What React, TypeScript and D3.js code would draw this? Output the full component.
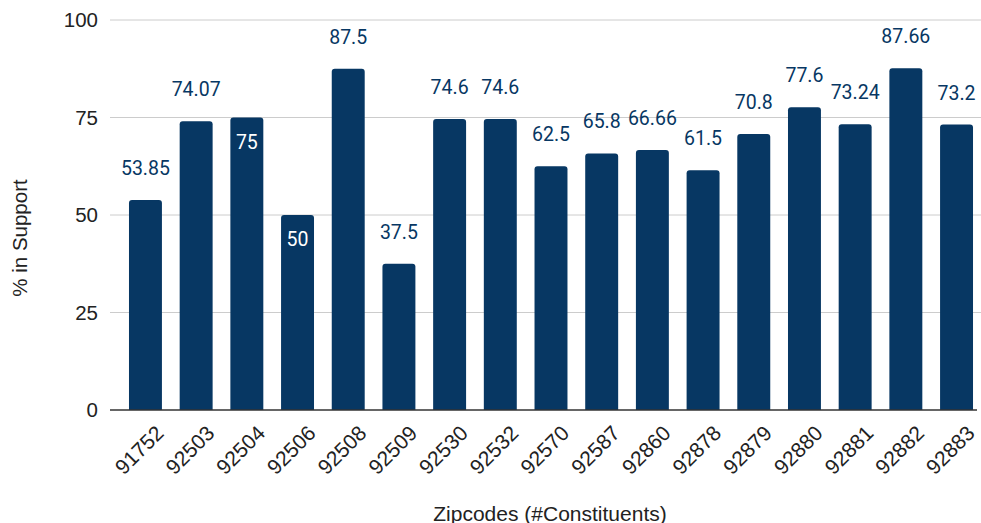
import React from 'react';
import * as d3 from 'd3';

const zipcodes = ['91752', '92503', '92504', '92506', '92508', '92509', '92530', '92532', '92570', '92587', '92860', '92878', '92879', '92880', '92881', '92882', '92883'];
const support = [53.85, 74.07, 75, 50, 87.5, 37.5, 74.6, 74.6, 62.5, 65.8, 66.66, 61.5, 70.8, 77.6, 73.24, 87.66, 73.2];
const labelText = ['53.85', '74.07', '75', '50', '87.5', '37.5', '74.6', '74.6', '62.5', '65.8', '66.66', '61.5', '70.8', '77.6', '73.24', '87.66', '73.2'];
// labels Sheets drew inside the bar instead of above it
const insideLabel = [false, false, true, true, false, false, false, false, false, false, false, false, false, false, false, false, false];
const yTicks = [0, 25, 50, 75, 100];

const W = 981;
const H = 523;
const BAR = '#073763';
const AXIS_FONT = 'Arial, "Liberation Sans", sans-serif';
const LABEL_FONT = 'Roboto, sans-serif';

const App: React.FC = () => {
  const x = d3.scaleBand<string>().domain(zipcodes).range([112, 990]).paddingInner(0.35).paddingOuter(0.335);
  const y = d3.scaleLinear().domain([0, 100]).range([410, 20]);
  const bw = x.bandwidth();

  // top-rounded bar path
  const barPath = (x0: number, y0: number, w: number, h: number, r: number) =>
    `M${x0},${y0 + h}V${y0 + r}Q${x0},${y0} ${x0 + r},${y0}H${x0 + w - r}Q${x0 + w},${y0} ${x0 + w},${y0 + r}V${y0 + h}Z`;

  return (
    <svg width={W} height={H} style={{ position: 'absolute', left: 0, top: 0, background: '#fff' }}>
      {yTicks.map((t) => (
        <g key={t}>
          {t > 0 && <line x1={110} x2={990} y1={y(t)} y2={y(t)} stroke="#cccccc" strokeWidth={1} />}
          <text x={98} y={y(t)} dy="0.36em" textAnchor="end" fontFamily={AXIS_FONT} fontSize={20.5} fill="#222">{t}</text>
        </g>
      ))}
      {zipcodes.map((z, i) => {
        const x0 = x(z)!;
        const top = y(support[i]);
        const cx = x0 + bw / 2;
        return (
          <g key={z}>
            <path d={barPath(x0, top, bw, y(0) - top, 3)} fill={BAR} />
            <text
              x={cx}
              y={insideLabel[i] ? top + 31 : top - 25}
              textAnchor="middle"
              fontFamily={LABEL_FONT}
              fontSize={19.5}
              fill={insideLabel[i] ? '#ffffff' : BAR}
            >
              {labelText[i]}
            </text>
            <text
              transform={`translate(${cx + 9},${y(0) + 14}) rotate(-45)`}
              dy="0.71em"
              textAnchor="end"
              fontFamily={AXIS_FONT}
              fontSize={21}
              fill="#222"
            >
              {z}
            </text>
          </g>
        );
      })}
      <line x1={110} x2={977} y1={y(0)} y2={y(0)} stroke="#333333" strokeWidth={1.5} />
      <text transform="translate(27,238) rotate(-90)" textAnchor="middle" fontFamily={AXIS_FONT} fontSize={20.5} fill="#222">
        % in Support
      </text>
      <text x={550} y={521} textAnchor="middle" fontFamily={AXIS_FONT} fontSize={21} fill="#222">
        Zipcodes (#Constituents)
      </text>
    </svg>
  );
};

export default App;
